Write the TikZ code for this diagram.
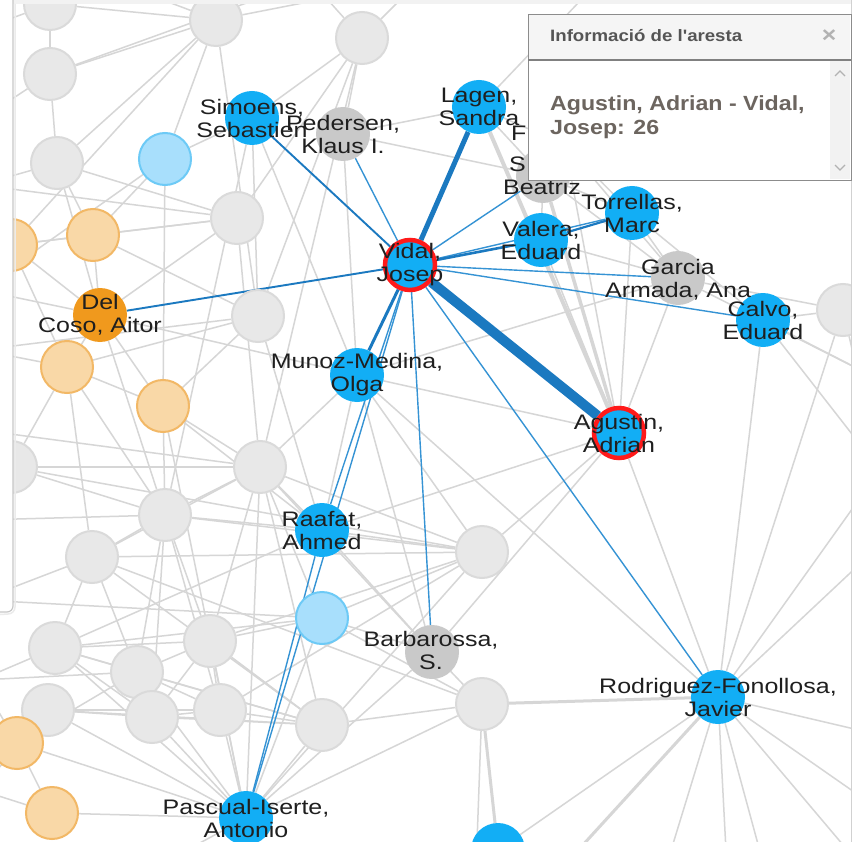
\documentclass[tikz,border=0pt]{standalone}
\usepackage{fontspec}
\setmainfont[FakeStretch=1.19]{Liberation Sans}
\newfontfamily\boxfont[FakeStretch=1.13]{Liberation Sans}
\definecolor{bfill}{HTML}{12AEF5}
\definecolor{gfill}{HTML}{E8E8E8}
\definecolor{gstroke}{HTML}{DADADA}
\definecolor{ngfill}{HTML}{C9C9C9}
\definecolor{lbfill}{HTML}{A8DFFC}
\definecolor{lbstroke}{HTML}{6DCAF6}
\definecolor{lofill}{HTML}{F9D8A7}
\definecolor{lostroke}{HTML}{F2B866}
\definecolor{ofill}{HTML}{F0991D}
\definecolor{ringred}{HTML}{FF1A1A}
\definecolor{edgegray}{HTML}{D6D6D6}
\definecolor{bedge}{HTML}{1B79C0}
\definecolor{bedgel}{HTML}{3593D4}
\definecolor{boxtext}{HTML}{6C655F}
\definecolor{headtext}{HTML}{555555}
\pgfdeclarelayer{bglayer}
\pgfdeclarelayer{edgelayer}
\pgfsetlayers{bglayer,edgelayer,main}
\tikzset{
  gnode/.style={circle, fill=gfill, draw=gstroke, line width=2pt, minimum size=52pt, inner sep=0pt},
  ngnode/.style={circle, fill=ngfill, minimum size=54pt, inner sep=0pt},
  bnode/.style={circle, fill=bfill, minimum size=54pt, inner sep=0pt},
  selnode/.style={circle, fill=bfill, draw=ringred, line width=4.5pt, minimum size=50pt, inner sep=0pt},
  lbnode/.style={circle, fill=lbfill, draw=lbstroke, line width=2pt, minimum size=52pt, inner sep=0pt},
  lonode/.style={circle, fill=lofill, draw=lostroke, line width=2pt, minimum size=52pt, inner sep=0pt},
  onode/.style={circle, fill=ofill, minimum size=54pt, inner sep=0pt},
  lbl/.style={align=center, font=\fontsize{21}{23}\selectfont, text=black!88, inner sep=0pt},
  ge/.style={draw=edgegray, line width=1.5pt},
  gthick/.style={draw=edgegray, line width=4pt},
  be/.style={draw=bedgel, line width=1.4pt},
  bthick/.style={draw=bedge, line width=#1},
}
\begin{document}
\begin{tikzpicture}[x=1pt,y=-1pt]
\useasboundingbox (0,0) rectangle (856,842);
\clip (0,0) rectangle (856,842);
\begin{pgfonlayer}{bglayer}
\fill[white] (0,0) rectangle (856,842);
\end{pgfonlayer}

% off-screen ends
\coordinate (xL1) at (-20,30);  \coordinate (xL2) at (-20,120);
\coordinate (xL3) at (-20,185); \coordinate (xL4) at (-20,290);
\coordinate (xL5) at (-20,350); \coordinate (xL6) at (-20,430);
\coordinate (xL7) at (-20,520); \coordinate (xL8) at (-20,600);
\coordinate (xL9) at (-20,680); \coordinate (xL10) at (-20,790);
\coordinate (xT1) at (310,-20); \coordinate (xT2) at (110,-20);
\coordinate (xT3) at (600,-20); \coordinate (xT4) at (420,-20);
\coordinate (xT5) at (880,220);
\coordinate (xB1) at (476,870); \coordinate (xB2) at (560,870);
\coordinate (xB3) at (665,870); \coordinate (xB4) at (727,870);
\coordinate (xB5) at (765,870); \coordinate (xB6) at (860,865);
\coordinate (xB7) at (150,870);
\coordinate (xR1) at (880,470); \coordinate (xR2) at (880,545);
\coordinate (xR3) at (880,735); \coordinate (xR4) at (880,810);
\coordinate (xR5) at (880,380);

% background gray nodes
\node[gnode] (g1) at (216,20) {};
\node[gnode] (g2) at (362,38) {};
\node[gnode] (g3) at (50,74) {};
\node[gnode] (g4) at (57,163) {};
\node[gnode] (g5) at (50,4) {};
\node[gnode] (g6) at (237,218) {};
\node[gnode] (g7) at (258,316) {};
\node[gnode] (g8) at (260,467) {};
\node[gnode] (g9) at (165,515) {};
\node[gnode] (g10) at (92,557) {};
\node[gnode] (g11) at (11,467) {};
\node[gnode] (g12) at (55,648) {};
\node[gnode] (g13) at (137,672) {};
\node[gnode] (g14) at (210,641) {};
\node[gnode] (g15) at (48,710) {};
\node[gnode] (g16) at (152,717) {};
\node[gnode] (g17) at (220,710) {};
\node[gnode] (g18) at (322,725) {};
\node[gnode] (g19) at (482,552) {};
\node[gnode] (g20) at (482,704) {};
\node[gnode] (g21) at (843,310) {};
\node[ngnode] (hf) at (565,145) {};
\node[lonode] (o1) at (11,245) {};
\node[lonode] (o2) at (93,235) {};
\node[lonode] (o3) at (67,367) {};
\node[lonode] (o4) at (163,406) {};
\node[lonode] (o5) at (17,743) {};
\node[lonode] (o6) at (52,813) {};
\node[lbnode] (lb1) at (322,618) {};
\node[lbnode] (lb2) at (165,159) {};

% named nodes
\node[ngnode] (Pe) at (343,134) {};
\node[ngnode] (Be) at (543,176) {};
\node[ngnode] (Ga) at (678,278) {};
\node[ngnode] (Ba) at (432,652) {};
\node[bnode] (L) at (479,107) {};
\node[bnode] (Si) at (252,118) {};
\node[bnode] (To) at (632,213) {};
\node[bnode] (Va) at (541,240) {};
\node[bnode] (Ca) at (763,320) {};
\node[bnode] (M) at (357,375) {};
\node[bnode] (R) at (322,530) {};
\node[bnode] (Ro) at (718,697) {};
\node[bnode] (Pa) at (246,818) {};
\node[bnode] (bb) at (498,850) {};
\node[onode] (D) at (100,315) {};
\node[selnode] (V) at (410,265) {};
\node[selnode] (A) at (619,433) {};

\begin{pgfonlayer}{edgelayer}
\foreach \a/\b in {g5/g3, g5/xL1, g5/g1, g3/g1, g3/g4, g3/xL2, g3/xT1, g4/g1, g4/o2, g4/xL3, g4/D, g4/g6,
  g1/lb2, g1/g7, g1/o1, g1/xT2, g1/xT4, lb2/Si, lb2/o2, lb2/o4, lb2/xL4, g6/xL3, g6/o2, g6/D, g6/o1, g6/g2, g6/g8,
  g7/o2, g7/o3, g7/o4, g7/g2, g7/xL5, g7/R, D/o2, D/o3, D/o4, D/xL4, D/M, D/o1, D/g9, o1/o2, o1/o3, o3/o4, o3/xL5,
  o3/g10, o4/g9, o4/g8, o4/R, o4/Pa, Si/M, Si/g2, Si/g9, Si/g7, Pe/g2, Pe/L, Pe/Be, Pe/M, g2/g8, g2/xT1, g2/xT4,
  L/Be, L/hf, L/xT3, Be/Va, Be/To, Be/Ga, hf/To, hf/Ga, hf/A, To/Ga, To/A, To/Ca, Va/Ga, Va/A, M/Ga, Ga/A, Ga/xR5,
  Ca/g21, Ca/Ro, Ca/xR1, Ca/xR5, g21/Ro, g21/xR1, g21/xT5, Ga/g21,
  A/Ro, A/R, A/Ba, A/g19, A/M, Ro/M, Ro/xR2, Ro/xR3, Ro/xR4, Ro/xB3, Ro/xB4, Ro/xB5, Ro/xB6, Ro/xR1, Ro/bb,
  g19/g10, g19/g9, g19/g8, g19/lb1, g19/Pa, g19/g14, g19/M, g19/R, g19/g17,
  g20/Ba, g20/Pa, g20/g18, g20/xB1, g20/g10, g20/lb1,
  Ba/lb1, Ba/R, Ba/g8, Ba/Pa, lb1/g14, lb1/Pa, lb1/g8, lb1/xL8, lb1/g12, R/g8, R/g9, R/g12,
  g8/g9, g8/g10, g8/g14, g8/Pa, g8/xL6, g8/g18, g8/M,
  g9/g10, g9/g13, g9/g14, g9/g17, g9/g16, g9/xL7, g9/o3,
  g10/g12, g10/g13, g10/xL8, g10/g18, g11/xL6, g11/g9, g11/o3, g11/g8, g11/g19,
  g12/g13, g12/g16, g12/g18, g12/xL9, g12/Pa, g12/g14,
  g13/g14, g13/g17, g13/g18, g13/Pa, g13/xL9, g13/o5,
  g14/g17, g14/g18, g14/Pa, g14/g16, g15/g16, g15/g17, g15/g18, g15/Pa, g15/o5, g15/xL10,
  g16/g17, g16/g18, g16/Pa, g17/g18, g17/Pa, g18/Pa, o5/Pa, o5/o6, o5/xL9, o6/Pa, o6/xL10, Pa/xB7, M/R, M/Ba}
  \draw[ge] (\a) -- (\b);
\draw[gthick] (L) -- (A);
\draw[gthick, line width=3.5pt] (Be) -- (A);
\draw[gthick, line width=3pt] (Ro) -- (g20);
\draw[gthick, line width=3pt] (Ro) -- (xB2);
\draw[gthick, line width=3pt] (g20) -- (bb);
% highlighted edges
\foreach \a/\b in {V/Pe, V/Be, V/To, V/Ga, V/Ca, V/Ro, V/Ba, V/R, V/Pa, R/Pa}
  \draw[be] (\a) -- (\b);
\draw[bthick=1.9pt] (V) -- (Si);
\draw[bthick=1.9pt] (V) -- (D);
\draw[bthick=2.2pt] (Va) -- (To);
\draw[bthick=2.6pt] (V) -- (Va);
\draw[bthick=3pt] (V) -- (M);
\draw[bthick=5pt] (V) -- (L);
\draw[bthick=10pt] (V) -- (A);
\end{pgfonlayer}

% labels
\node[lbl] (Vl) at (V) {Vidal,\\Josep};
\node[lbl] (Al) at (A) {Agustin,\\Adrian};
\node[lbl] (Ll) at (L) {Lagen,\\Sandra};
\node[lbl] (Sil) at (Si) {Simoens,\\Sebastien};
\node[lbl] (Pel) at (Pe) {Pedersen,\\Klaus I.};
\node[lbl, anchor=west] (Fl) at (511,133) {F};
\node[lbl, anchor=west] (Sl) at (509,164) {S};
\node[lbl] (Bel) at (542,187) {Beatriz};
\node[lbl] (Tol) at (To) {Torrellas,\\Marc};
\node[lbl] (Val) at (Va) {Valera,\\Eduard};
\node[lbl] (Gal) at (678,280) {Garcia\\Armada, Ana};
\node[lbl] (Cal) at (Ca) {Calvo,\\Eduard};
\node[lbl] (Dl) at (D) {Del\\Coso, Aitor};
\node[lbl] (Ml) at (M) {Munoz-Medina,\\Olga};
\node[lbl] (Rl) at (R) {Raafat,\\Ahmed};
\node[lbl] (Bal) at (431,650) {Barbarossa,\\S.};
\node[lbl] (Rol) at (Ro) {Rodriguez-Fonollosa,\\Javier};
\node[lbl] (Pal) at (Pa) {Pascual-Iserte,\\Antonio};

% page frame
\fill[black!5] (13,0) rectangle (856,4);
\fill[white] (851,0) rectangle (856,842);
\draw[black!18, line width=1pt] (851,0) -- (851,842);

% left panel
\fill[white] (0,0) -- (13,0) -- (13,606) arc[start angle=0, end angle=-90, radius=6pt] -- (0,612) -- cycle;
\draw[black!8, line width=1.5pt] (15,4) -- (15,607) arc[start angle=0, end angle=-90, radius=7pt] -- (0,614.5);
\draw[black!22, line width=1.2pt] (13,0) -- (13,606) arc[start angle=0, end angle=-90, radius=6pt] -- (0,612);

% info box
\node[draw=black!45, line width=1.2pt, fill=white, minimum width=323pt, minimum height=166pt, inner sep=0pt, anchor=north west] (box) at (528,14) {};
\fill[black!4] ([shift={(0.6pt,-0.6pt)}]box.north west) rectangle (850.4,60);
\draw[black!50, line width=1.2pt] (528,60) -- (851,60);
\fill[black!5] (830,61) rectangle (850.4,179.4);
\draw[black!30, line width=1.2pt] (835,76) -- (840,71) -- (845,76);
\draw[black!30, line width=1.2pt] (835,165) -- (840,170) -- (845,165);
\node[anchor=base west, inner sep=0pt, text=headtext, font=\boxfont\bfseries\fontsize{16.5}{18}\selectfont] (boxhead) at (550,42) {Informació de l'aresta};
\node[inner sep=0pt, text=black!30, font=\boxfont\bfseries\fontsize{22}{22}\selectfont] (boxclose) at (829,36) {×};
\node[anchor=base west, inner sep=0pt, text=boxtext, font=\boxfont\bfseries\fontsize{20.5}{24}\selectfont] (boxl1) at (550,111) {Agustin, Adrian - Vidal,};
\node[anchor=base west, inner sep=0pt, text=boxtext, font=\boxfont\bfseries\fontsize{20.5}{24}\selectfont] (boxl2) at (550,135) {Josep: 26};
\end{tikzpicture}
\end{document}
